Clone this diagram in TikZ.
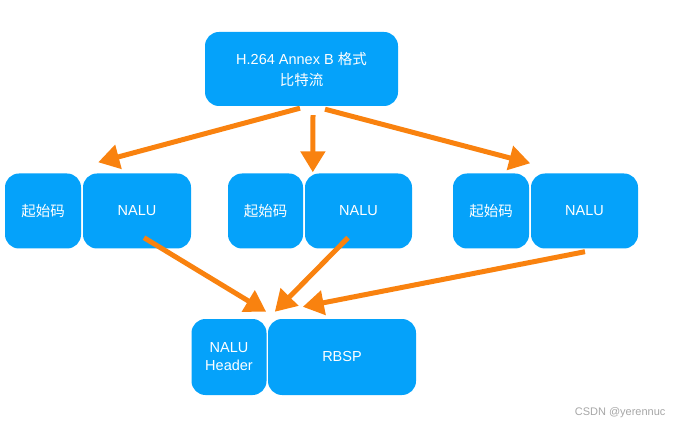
\documentclass[tikz,border=0pt]{standalone}
\usepackage{fontspec}
\setmainfont{Liberation Sans}
\newfontfamily\cjk{Noto Sans CJK SC}
\usetikzlibrary{arrows.meta,calc}
\definecolor{boxblue}{HTML}{05A2FA}
\definecolor{arrorange}{HTML}{F9820F}
\tikzset{
  bx/.style={fill=boxblue, rounded corners=14pt, text=white, font=\fontsize{14.5}{21}\selectfont, align=center, inner sep=0pt, minimum height=75pt},
  arr/.style={draw=arrorange, line width=5pt, -{Triangle[length=21pt,width=24pt]}},
}
\begin{document}
\begin{tikzpicture}[x=1pt,y=-1pt]
\useasboundingbox (0,0) rectangle (674,427);
\node[bx, minimum width=193pt, minimum height=74pt] (top) at (301.5,69) {H.264 Annex B {\cjk 格式}\\{\cjk 比特流}};
\node[bx, minimum width=76pt] (s1) at (43,211) {\cjk 起始码};
\node[bx, minimum width=108pt] (n1) at (137,211) {NALU};
\node[bx, minimum width=75pt] (s2) at (265.5,211) {\cjk 起始码};
\node[bx, minimum width=107pt] (n2) at (358.5,211) {NALU};
\node[bx, minimum width=76pt] (s3) at (491,211) {\cjk 起始码};
\node[bx, minimum width=107pt] (n3) at (584.5,211) {NALU};
\node[bx, minimum width=75pt, minimum height=76pt] (hd) at (229,357) {NALU\\[-3pt]Header};
\node[bx, minimum width=148pt, minimum height=76pt] (rb) at (342,357) {RBSP};
\node[text=black!35, font=\fontsize{11}{13}\selectfont, anchor=east] (wm) at (669,413) {CSDN @yerennuc};
% arrow end points
\coordinate (a1s) at ($(top.south)+(-1.5,2)$);
\coordinate (a1e) at ($(s1.north east)+(17,-11)$);
\coordinate (a2s) at ($(top.south)+(11.5,9)$);
\coordinate (a2e) at ($(n2.north west)+(8,-1)$);
\coordinate (a3s) at ($(top.south)+(23.5,3)$);
\coordinate (a3e) at ($(s3.north east)+(1,-10)$);
\coordinate (a4s) at ($(n1.south)+(7,-11)$);
\coordinate (a4e) at ($(hd.north east)+(-0.5,-7)$);
\coordinate (a5s) at ($(n2.south)+(-10.5,-11)$);
\coordinate (a5e) at ($(rb.north west)+(7,-7)$);
\coordinate (a6s) at ($(n3.south)+(0.5,3)$);
\coordinate (a6e) at ($(rb.north west)+(35,-12)$);
\draw[arr] (a1s) -- (a1e);
\draw[arr] (a2s) -- (a2e);
\draw[arr] (a3s) -- (a3e);
\draw[arr] (a4s) -- (a4e);
\draw[arr] (a5s) -- (a5e);
\draw[arr] (a6s) -- (a6e);
\end{tikzpicture}
\end{document}
